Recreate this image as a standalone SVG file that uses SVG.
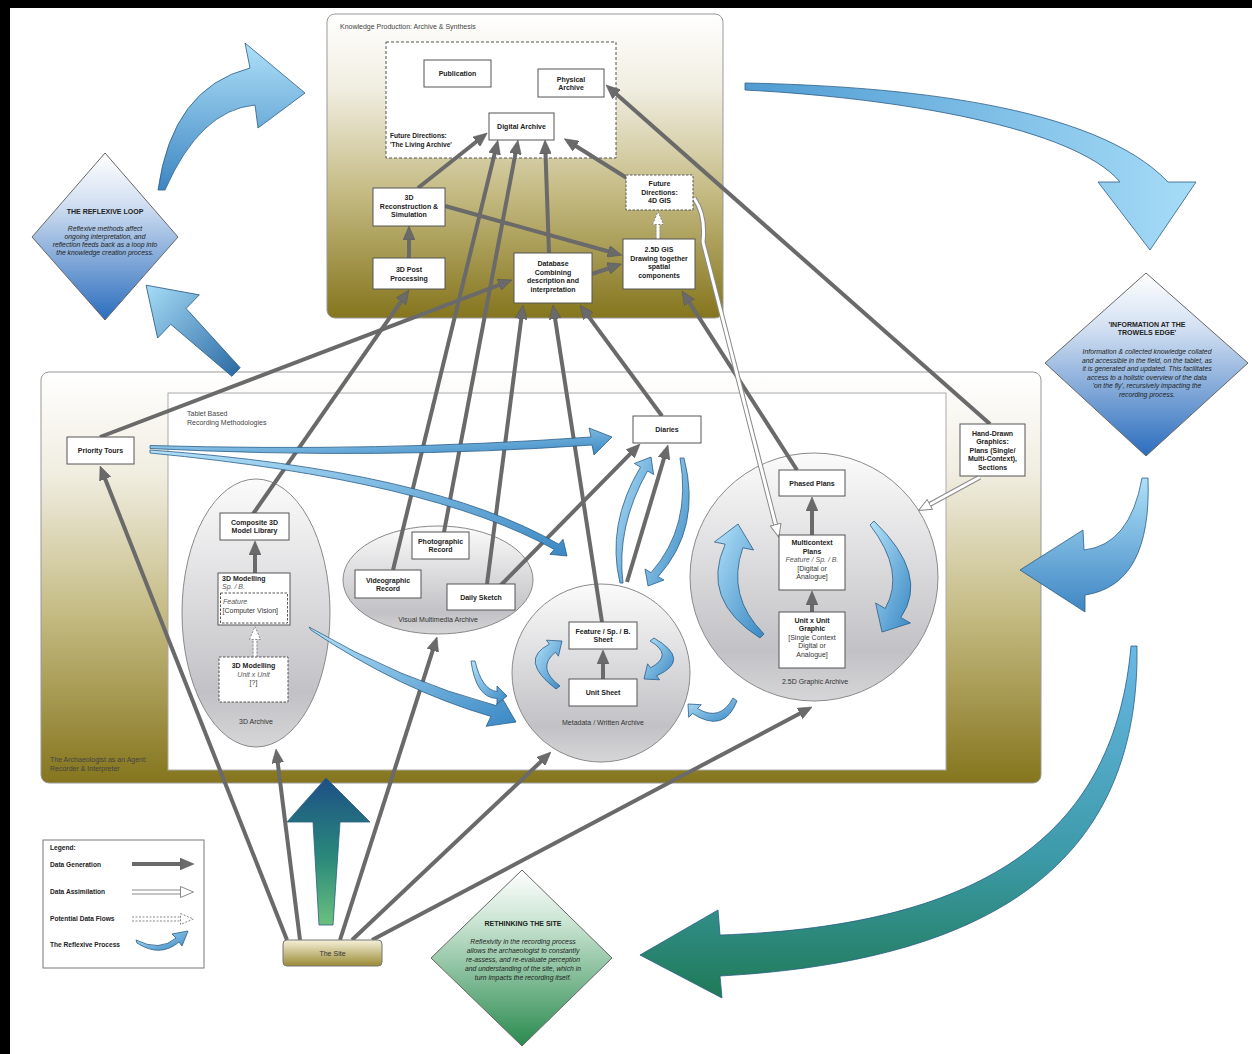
<svg xmlns="http://www.w3.org/2000/svg" width="1252" height="1054" viewBox="0 0 1252 1054">
<defs>
<style>
.t{font-family:"Liberation Sans",Arial,sans-serif;font-size:7px;fill:#222;text-anchor:middle;font-weight:bold}
.tn{font-family:"Liberation Sans",Arial,sans-serif;font-size:7px;fill:#333;text-anchor:middle}
.ti{font-family:"Liberation Sans",Arial,sans-serif;font-size:7px;fill:#555;text-anchor:middle;font-style:italic}
.lb{font-family:"Liberation Sans",Arial,sans-serif;font-size:7px;fill:#444}
.lg{font-family:"Liberation Sans",Arial,sans-serif;font-size:6.6px;fill:#222;font-weight:bold}
.dt{font-family:"Liberation Sans",Arial,sans-serif;font-size:7px;fill:#222;text-anchor:middle;font-weight:bold}
.di{font-family:"Liberation Sans",Arial,sans-serif;font-size:6.8px;fill:#222;text-anchor:middle;font-style:italic}
.box{fill:#fff;stroke:#555;stroke-width:1}
.dbox{fill:#fff;stroke:#555;stroke-width:1;stroke-dasharray:2.5 1.5}
.g{fill:none;stroke:#6a6a6a;stroke-width:4;marker-end:url(#ah)}
.ho{fill:none;stroke:#8a8a8a;stroke-width:5}
.hi{fill:none;stroke:#fff;stroke-width:3;marker-end:url(#hh)}
.hod{fill:none;stroke:#8a8a8a;stroke-width:5;stroke-dasharray:2 1.5}
.hid{fill:none;stroke:#fff;stroke-width:3;marker-end:url(#hd)}
.ba{fill:url(#bl);stroke:#2b5d86;stroke-width:0.8}
.arch{fill:url(#grayC);stroke:#8a8a8a;stroke-width:1}
</style>
<marker id="ah" viewBox="0 0 14 12" refX="6" refY="6" markerWidth="14" markerHeight="12" markerUnits="userSpaceOnUse" orient="auto"><path d="M0,0 L14,6 L0,12 z" fill="#6a6a6a" stroke="#555" stroke-width="0.5"/></marker>
<marker id="hh" viewBox="0 0 14 12" refX="6" refY="6" markerWidth="14" markerHeight="12" markerUnits="userSpaceOnUse" orient="auto"><path d="M0.5,0.5 L13.5,6 L0.5,11.5 z" fill="#fff" stroke="#8a8a8a" stroke-width="1"/></marker>
<marker id="hd" viewBox="0 0 14 12" refX="6" refY="6" markerWidth="14" markerHeight="12" markerUnits="userSpaceOnUse" orient="auto"><path d="M0.5,0.5 L13.5,6 L0.5,11.5 z" fill="#fff" stroke="#8a8a8a" stroke-width="1" stroke-dasharray="2 1.5"/></marker>
<linearGradient id="olive" x1="0" y1="0" x2="0" y2="1"><stop offset="0" stop-color="#ffffff"/><stop offset="0.25" stop-color="#f0ede0"/><stop offset="0.6" stop-color="#c3b980"/><stop offset="1" stop-color="#85751d"/></linearGradient>
<linearGradient id="grayC" x1="0" y1="0" x2="0" y2="1"><stop offset="0" stop-color="#fbfbfb"/><stop offset="0.8" stop-color="#c2c2c6"/><stop offset="1" stop-color="#d6d6d8"/></linearGradient>
<linearGradient id="blueD" x1="0" y1="0" x2="0" y2="1"><stop offset="0" stop-color="#ffffff"/><stop offset="0.3" stop-color="#d3e0f2"/><stop offset="1" stop-color="#2a6dbd"/></linearGradient>
<linearGradient id="greenD" x1="0" y1="0" x2="0" y2="1"><stop offset="0" stop-color="#ffffff"/><stop offset="0.3" stop-color="#c9e4d2"/><stop offset="1" stop-color="#2a8a4e"/></linearGradient>
<linearGradient id="siteG" x1="0" y1="0" x2="0" y2="1"><stop offset="0" stop-color="#f5f1da"/><stop offset="1" stop-color="#9a8a34"/></linearGradient>
<linearGradient id="bl" x1="0" y1="0" x2="1" y2="1"><stop offset="0" stop-color="#b4e2f9"/><stop offset="1" stop-color="#3a88c4"/></linearGradient>
<linearGradient id="blV" x1="0" y1="0" x2="0" y2="1"><stop offset="0" stop-color="#aee0f8"/><stop offset="1" stop-color="#3e86c3"/></linearGradient>
<linearGradient id="blH" x1="0" y1="0" x2="1" y2="0"><stop offset="0" stop-color="#4f9bd2"/><stop offset="1" stop-color="#a6dcf7"/></linearGradient>
<linearGradient id="blUL" x1="0" y1="0" x2="1" y2="0"><stop offset="0" stop-color="#2f6ea6"/><stop offset="1" stop-color="#a6dcf7"/></linearGradient>
<linearGradient id="bgr" x1="0" y1="0" x2="0" y2="1"><stop offset="0" stop-color="#6ab8e6"/><stop offset="0.6" stop-color="#3c9aa8"/><stop offset="1" stop-color="#1f7a56"/></linearGradient>
<linearGradient id="upG" x1="0" y1="0" x2="0" y2="1"><stop offset="0" stop-color="#1d4f86"/><stop offset="0.55" stop-color="#2a8a7a"/><stop offset="1" stop-color="#6cc07e"/></linearGradient>
</defs>

<rect x="0" y="0" width="1252" height="1054" fill="#fff"/>
<rect x="0" y="0" width="1252" height="8" fill="#000"/>
<rect x="0" y="0" width="10" height="1054" fill="#000"/>

<!-- panels -->
<g id="panel-knowledge">
<rect x="327" y="14" width="396" height="304" rx="8" fill="url(#olive)" stroke="#999" stroke-width="1"/>
<text class="lb" x="340" y="29">Knowledge Production: Archive &amp; Synthesis</text>
</g>
<g id="living-archive">
<rect x="386" y="42" width="230" height="116" fill="#fff" stroke="#555" stroke-width="1" stroke-dasharray="3 2"/>
<text class="lg" x="390" y="138">Future Directions:</text>
<text class="lg" x="390" y="147">'The Living Archive'</text>
</g>
<g id="panel-agent">
<rect x="41" y="372" width="1000" height="411" rx="8" fill="url(#olive)" stroke="#999" stroke-width="1"/>
<text class="lb" x="50" y="762">The Archaeologist as an Agent:</text>
<text class="lb" x="50" y="771">Recorder &amp; Interpreter</text>
</g>
<g id="panel-tablet">
<rect x="168" y="393" width="778" height="377" fill="#fff" stroke="#aaa" stroke-width="1"/>
<text class="lb" x="187" y="416">Tablet Based</text>
<text class="lb" x="187" y="425">Recording Methodologies</text>
</g>

<!-- diamonds -->
<g id="reflexive-loop">
<polygon points="105,153 178,237 105,320 32,237" fill="url(#blueD)" stroke="#666" stroke-width="1"/>
<text class="dt" x="105" y="214">THE REFLEXIVE LOOP</text>
<text class="di" x="105" y="231">Reflexive methods affect</text>
<text class="di" x="105" y="239">ongoing interpretation, and</text>
<text class="di" x="105" y="247">reflection feeds back as a loop into</text>
<text class="di" x="105" y="255">the knowledge creation process.</text>
</g>
<g id="trowels-edge">
<polygon points="1146,273 1248,363 1146,456 1045,363" fill="url(#blueD)" stroke="#666" stroke-width="1"/>
<text class="dt" x="1147" y="327">'INFORMATION AT THE</text>
<text class="dt" x="1147" y="335">TROWELS EDGE'</text>
<text class="di" x="1147" y="354">Information &amp; collected knowledge collated</text>
<text class="di" x="1147" y="362.6">and accessible in the field, on the tablet, as</text>
<text class="di" x="1147" y="371.2">it is generated and updated. This facilitates</text>
<text class="di" x="1147" y="379.8">access to a holistic overview of the data</text>
<text class="di" x="1147" y="388.4">'on the fly', recursively impacting the</text>
<text class="di" x="1147" y="397">recording process.</text>
</g>
<g id="rethinking-site">
<polygon points="522,870 612,958 522,1046 431,958" fill="url(#greenD)" stroke="#666" stroke-width="1"/>
<text class="dt" x="523" y="926">RETHINKING THE SITE</text>
<text class="di" x="523" y="944">Reflexivity in the recording process</text>
<text class="di" x="523" y="953">allows the archaeologist to constantly</text>
<text class="di" x="523" y="962">re-assess, and re-evaluate perception</text>
<text class="di" x="523" y="971">and understanding of the site, which in</text>
<text class="di" x="523" y="980">turn impacts the recording itself.</text>
</g>

<!-- archives (containers) -->
<g id="archive-3d">
<ellipse cx="256" cy="613" rx="74" ry="134" class="arch"/>
<text class="tn" x="256" y="724">3D Archive</text>
</g>
<g id="archive-visual">
<ellipse cx="438" cy="580" rx="95" ry="54" class="arch"/>
<text class="tn" x="438" y="622">Visual Multimedia Archive</text>
</g>
<g id="archive-metadata">
<circle cx="601" cy="673" r="89" class="arch"/>
<text class="tn" x="603" y="725">Metadata / Written Archive</text>
</g>
<g id="archive-graphic">
<circle cx="814" cy="577" r="124" class="arch"/>
<text class="tn" x="815" y="684">2.5D Graphic Archive</text>
</g>

<!-- big reflexive arrows -->
<g id="reflexive-arrows">
<path class="ba" style="fill:url(#blV)" d="M158,190 Q172,88 250,68 L245,43 L305,93 L258,128 L255,105 Q200,110 165,190 Z"/>
<path class="ba" style="fill:url(#blUL)" transform="translate(236,372) rotate(-136)" d="M0,-6 L80,-11 L80,-30 L125,0 L80,30 L80,11 L0,6 Z"/>
<path class="ba" style="fill:url(#blH)" d="M745,83 C900,86 1095,105 1168,182 L1196,182 L1150,250 L1098,182 L1120,182 C1075,128 900,98 745,90 Z"/>
<path class="ba" style="fill:url(#blV)" d="M1142,478 Q1130,545 1084,550 L1083,530 L1020,570 L1085,612 L1085,595 Q1152,585 1148,478 Z"/>
<path class="ba" style="fill:url(#bgr)" d="M1131,646 C1115,830 990,926 720,935 L718,910 L640,955 L722,998 L720,976 C1010,960 1140,850 1137,646 Z"/>
<path class="ba" style="fill:url(#upG)" d="M319,925 L313,822 L287,822 L326,778 L370,822 L340,822 L333,925 Z"/>
</g>

<!-- connectors -->
<g id="connectors">
<path class="g" d="M409,258 L409,234"/>
<path class="g" d="M418,188 L481,138"/>
<path class="g" d="M445,206 L614,253"/>
<path class="g" d="M592,274 L614,266.5"/>
<path class="g" d="M630,180 L571,143"/>
<path class="g" d="M549,253 L545.3,148"/>
<path class="g" d="M444,532 L516.5,148"/>
<path class="g" d="M393,570 L496,148"/>
<path class="g" d="M253,514 L404.4,296.6"/>
<path class="g" d="M100,437 L504.5,282.8"/>
<path class="g" d="M487,584 L522,313"/>
<path class="g" d="M602,622 L554.2,313"/>
<path class="g" d="M662,416 L584.8,311.4"/>
<path class="g" d="M797,470 L686.3,297.7"/>
<path class="g" d="M990,424 L612,90.3"/>
<path class="g" d="M500,586 L634.4,449.7"/>
<path class="g" d="M627,582 L665.7,452.7"/>
<path class="g" d="M255,573 L255,549"/>
<path class="g" d="M603,679 L603,658"/>
<path class="g" d="M812,535 L812,505"/>
<path class="g" d="M812,612 L812,599"/>
<path class="g" d="M287,940 L103,473.4"/>
<path class="g" d="M300,940 L277,757"/>
<path class="g" d="M340,940 L434.6,644.6"/>
<path class="g" d="M352,940 L545.2,757.5"/>
<path class="g" d="M372,940 L805,710.7"/>
<path class="ho" d="M694,198 Q706,215 703,242 L777,530"/>
<path class="hi" d="M694,198 Q706,215 703,242 L777,530"/>
<path class="ho" d="M980,477 L925,507"/>
<path class="hi" d="M980,477 L925,507"/>
<path class="hod" d="M658,239 L658,219"/>
<path class="hid" d="M658,239 L658,219"/>
<path class="hod" d="M255,657 L255,634"/>
<path class="hid" d="M255,657 L255,634"/>
<path class="ba" d="M150,445.5 Q380,452 591,437 L589,428 L612,437 L594,455 L592,445 Q380,460 150,448.5 Z"/>
<path class="ba" d="M150,450 Q430,470 558.8,544.2 L563,539.3 L567,556 L550,554.3 L554.2,549.4 Q430,480 150,453 Z"/>
<path class="ba" d="M309,627 Q400,680 496.1,705.6 L500.8,695.7 L516,722 L486.2,726.3 L490.9,716.4 Q400,690 311,630 Z"/>
<path class="ba" d="M471,661 Q476,698 497,698.5 L497,704 L507,696 L497,686 L497,691.5 Q482,690 475,661 Z"/>
<path class="ba" d="M733,698 Q720,722 697.5,708.5 L701.3,704.7 L688,704 L688.7,717.3 L692.5,713.5 Q724,734 737,701 Z"/>
<path class="ba" d="M620,583 Q606,525 640.5,467 L634.4,463.5 L651,457 L653.6,474.5 L647.5,471 Q616,527 623,583 Z"/>
<path class="ba" d="M684,458 Q702,528 658,576.7 L664,580 L648,586 L645,569 L651,572.7 Q692,526 680,458 Z"/>
<path class="ba" d="M556,689 Q518,660 549.4,644.2 L546.4,640.2 L562,641 L558.4,656.2 L555.4,652.2 Q536,668 560,686 Z"/>
<path class="ba" d="M654,638 Q692,660 656.6,675.8 L659.6,679.8 L644,679 L647.6,663.8 L650.6,667.8 Q674,655 650,641 Z"/>
<path class="ba" d="M760,638 Q700,600 725.2,544.2 L714.4,542 L738,524 L753.6,550 L742.8,547.8 Q726,596 764,634 Z"/>
<path class="ba" d="M874,521 Q930,575 900.8,617.5 L910.4,623 L882,632 L875.6,603 L885.2,608.5 Q906,572 870,525 Z"/>
</g>

<!-- nodes: knowledge production -->
<g id="publication"><rect class="box" x="424" y="60" width="67" height="27"/><text class="t" x="457.5" y="76">Publication</text></g>
<g id="physical-archive"><rect class="box" x="538" y="69" width="66" height="28"/><text class="t" x="571" y="81.5">Physical</text><text class="t" x="571" y="89.5">Archive</text></g>
<g id="digital-archive"><rect class="box" x="489" y="113" width="65" height="27"/><text class="t" x="521.5" y="129">Digital Archive</text></g>
<g id="reconstruction"><rect class="box" x="373" y="188" width="72" height="38"/><text class="t" x="409" y="200">3D</text><text class="t" x="409" y="208.5">Reconstruction &amp;</text><text class="t" x="409" y="217">Simulation</text></g>
<g id="post-processing"><rect class="box" x="373" y="258" width="72" height="31"/><text class="t" x="409" y="272">3D Post</text><text class="t" x="409" y="280.5">Processing</text></g>
<g id="database"><rect class="box" x="514" y="253" width="78" height="50"/><text class="t" x="553" y="266">Database</text><text class="t" x="553" y="274.5">Combining</text><text class="t" x="553" y="283">description and</text><text class="t" x="553" y="291.5">interpretation</text></g>
<g id="gis-4d"><rect class="dbox" x="626" y="175" width="67" height="35"/><text class="t" x="659.5" y="186">Future</text><text class="t" x="659.5" y="194.5">Directions:</text><text class="t" x="659.5" y="203">4D GIS</text></g>
<g id="gis-25d"><rect class="box" x="623" y="239" width="72" height="50"/><text class="t" x="659" y="252">2.5D GIS</text><text class="t" x="659" y="260.5">Drawing together</text><text class="t" x="659" y="269">spatial</text><text class="t" x="659" y="277.5">components</text></g>

<!-- nodes: field -->
<g id="priority-tours"><rect class="box" x="67" y="437" width="67" height="27"/><text class="t" x="100.5" y="453">Priority Tours</text></g>
<g id="composite-3d"><rect class="box" x="220" y="513" width="69" height="27"/><text class="t" x="254.5" y="524.5">Composite 3D</text><text class="t" x="254.5" y="533">Model Library</text></g>
<g id="modelling-spb"><rect class="box" x="218" y="573" width="72" height="52"/><text class="t" x="222" y="581" style="text-anchor:start">3D Modelling</text><text class="ti" x="222" y="589" style="text-anchor:start">Sp. / B.</text><rect class="dbox" x="220.5" y="593" width="67" height="30"/><text class="ti" x="223" y="604" style="text-anchor:start">Feature</text><text class="tn" x="222.5" y="613" style="text-anchor:start">[Computer Vision]</text></g>
<g id="modelling-unit"><rect class="dbox" x="219" y="657" width="69" height="45"/><text class="t" x="253.5" y="668">3D Modelling</text><text class="ti" x="253.5" y="676.5">Unit x Unit</text><text class="tn" x="253.5" y="685">[?]</text></g>
<g id="photographic"><rect class="box" x="412" y="532" width="57" height="27"/><text class="t" x="440.5" y="543.5">Photographic</text><text class="t" x="440.5" y="552">Record</text></g>
<g id="videographic"><rect class="box" x="355" y="570" width="66" height="28"/><text class="t" x="388" y="582.5">Videographic</text><text class="t" x="388" y="591">Record</text></g>
<g id="daily-sketch"><rect class="box" x="447" y="584" width="68" height="26"/><text class="t" x="481" y="599.5">Daily Sketch</text></g>
<g id="feature-sheet"><rect class="box" x="569" y="622" width="68" height="27"/><text class="t" x="603" y="633.5">Feature / Sp. / B.</text><text class="t" x="603" y="642">Sheet</text></g>
<g id="unit-sheet"><rect class="box" x="569" y="679" width="68" height="27"/><text class="t" x="603" y="695">Unit Sheet</text></g>
<g id="diaries"><rect class="box" x="633" y="416" width="68" height="27"/><text class="t" x="667" y="432">Diaries</text></g>
<g id="phased-plans"><rect class="box" x="779" y="470" width="66" height="26"/><text class="t" x="812" y="485.5">Phased Plans</text></g>
<g id="multicontext"><rect class="box" x="779" y="535" width="66" height="55"/><text class="t" x="812" y="545">Multicontext</text><text class="t" x="812" y="553.5">Plans</text><text class="ti" x="812" y="562">Feature / Sp. / B.</text><text class="tn" x="812" y="570.5">[Digital or</text><text class="tn" x="812" y="579">Analogue]</text></g>
<g id="unit-graphic"><rect class="box" x="779" y="612" width="66" height="56"/><text class="t" x="812" y="622.5">Unit x Unit</text><text class="t" x="812" y="631">Graphic</text><text class="tn" x="812" y="639.5">[Single Context</text><text class="tn" x="812" y="648">Digital or</text><text class="tn" x="812" y="656.5">Analogue]</text></g>
<g id="hand-drawn"><rect class="box" x="960" y="424" width="65" height="52"/><text class="t" x="992.5" y="435.5">Hand-Drawn</text><text class="t" x="992.5" y="444">Graphics:</text><text class="t" x="992.5" y="452.5">Plans (Single/</text><text class="t" x="992.5" y="461">Multi-Context),</text><text class="t" x="992.5" y="469.5">Sections</text></g>
<g id="the-site"><rect x="283" y="940" width="99" height="26" rx="4" fill="url(#siteG)" stroke="#777" stroke-width="1"/><text class="tn" x="332.5" y="956">The Site</text></g>

<!-- legend -->
<g id="legend">
<rect x="43" y="840" width="161" height="128" fill="#fff" stroke="#777" stroke-width="1"/>
<text class="lg" x="50" y="850">Legend:</text>
<text class="lg" x="50" y="867">Data Generation</text>
<path class="g" d="M132,864 L186,864"/>
<text class="lg" x="50" y="894">Data Assimilation</text>
<path class="ho" d="M132,892 L186,892"/><path class="hi" d="M132,892 L186,892"/>
<text class="lg" x="50" y="921">Potential Data Flows</text>
<path class="hod" d="M132,919 L186,919"/><path class="hid" d="M132,919 L186,919"/>
<text class="lg" x="50" y="947">The Reflexive Process</text>
<path class="ba" d="M136,940 Q160,952 176,938 L172,934 L188,931 L182,946 L179,942 Q160,958 137,943 Z"/>
</g>
</svg>
